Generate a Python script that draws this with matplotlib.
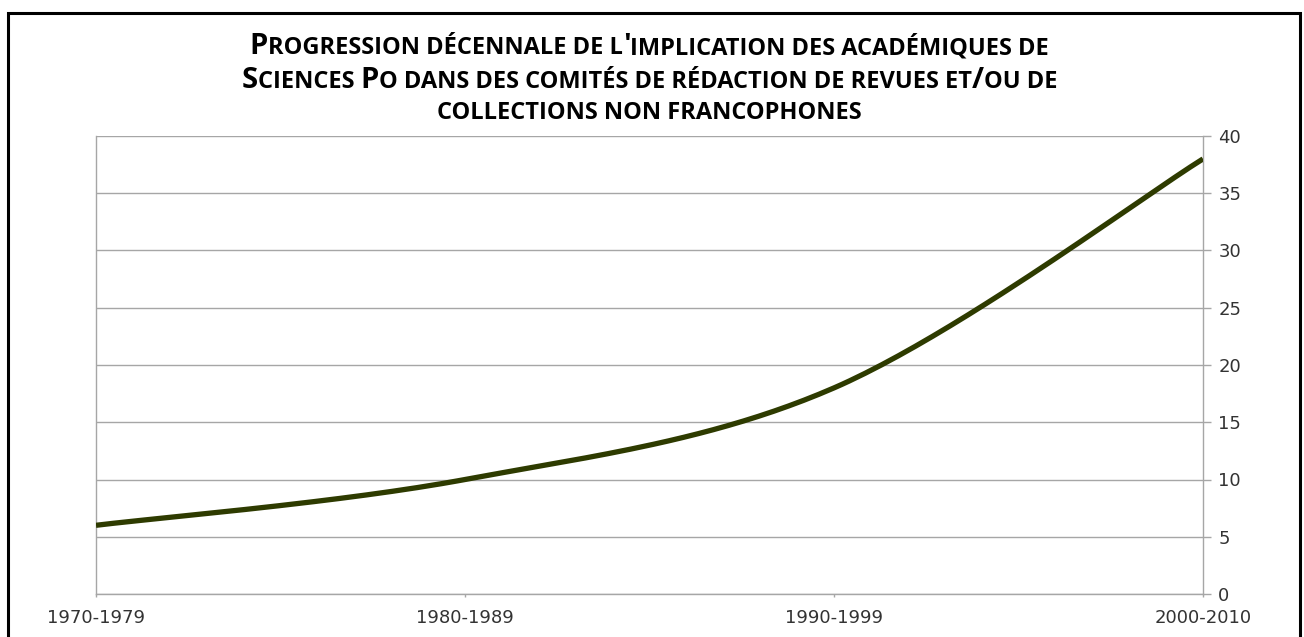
import numpy as np
import matplotlib
matplotlib.use('Agg')
import matplotlib.pyplot as plt
from matplotlib.offsetbox import TextArea, HPacker, AnchoredOffsetbox
from matplotlib.patches import Rectangle

# Data
periods = ['1970-1979', '1980-1989', '1990-1999', '2000-2010']
counts = [6, 10, 18, 38]
yticks = [0, 5, 10, 15, 20, 25, 30, 35, 40]

# Title, written with capitals where the small-caps title has a big letter
title_lines = [
    "Progression décennale de l'implication des académiques de",
    "Sciences Po dans des comités de rédaction de revues et/ou de",
    "collections non francophones",
]

GRID = '#a6a6a6'
LINE = '#2e3b00'


def smooth(xs, ys, n=50):
    # Excel-style smoothed line: cubic Bezier through each pair of points
    pts = np.column_stack([xs, ys]).astype(float)
    padded = np.vstack([pts[0], pts, pts[-1]])
    t = np.linspace(0, 1, n)[:, None]
    segs = []
    for i in range(len(pts) - 1):
        p0, p1, p2, p3 = padded[i:i + 4]
        c1 = p1 + (p2 - p0) / 6
        c2 = p2 - (p3 - p1) / 6
        segs.append((1 - t) ** 3 * p1 + 3 * (1 - t) ** 2 * t * c1
                    + 3 * (1 - t) * t ** 2 * c2 + t ** 3 * p2)
    return np.vstack(segs)


def smallcaps(line, big=21, small=17):
    # split into runs of big (capital / punctuation) and small (lowercase) letters
    runs = []
    for ch in line:
        kind = 'small' if (ch.isalpha() and ch.islower()) or ch == ' ' else 'big'
        if runs and runs[-1][0] == kind:
            runs[-1][1] += ch
        else:
            runs.append([kind, ch])
    boxes = []
    for kind, txt in runs:
        size = small if kind == 'small' else big
        boxes.append(TextArea(txt.upper(), textprops=dict(
            fontsize=size, fontweight='bold', family='Open Sans', color='black')))
    return HPacker(children=boxes, align='baseline', pad=0, sep=0)


fig = plt.figure(figsize=(13.04, 6.37), dpi=100)
ax = fig.add_axes([96 / 1304, 1 - 594 / 637, (1203 - 96) / 1304, (594 - 136) / 637])

xs = np.arange(len(periods))
curve = smooth(xs, counts)
ax.plot(curve[:, 0], curve[:, 1], color=LINE, lw=3.8, solid_capstyle='butt', zorder=3)

ax.set_xlim(0, len(periods) - 1)
ax.set_ylim(0, 40)
ax.set_xticks(xs)
ax.set_xticklabels(periods)
ax.set_yticks(yticks)
ax.yaxis.tick_right()
ax.grid(axis='y', color=GRID, lw=1)
ax.set_axisbelow(True)
ax.spines['top'].set_visible(False)
for side in ['left', 'right', 'bottom']:
    ax.spines[side].set_color(GRID)
    ax.spines[side].set_linewidth(1)
ax.tick_params(axis='y', direction='out', length=6, width=1, color=GRID,
               pad=5, labelsize=13, labelcolor='#333333')
ax.tick_params(axis='x', direction='out', length=2.5, width=1, color=GRID,
               pad=8, labelsize=13, labelcolor='#333333')

title_y = [0.927, 0.873, 0.822]
for line, y in zip(title_lines, title_y):
    box = AnchoredOffsetbox(loc='center', child=smallcaps(line), pad=0, borderpad=0,
                            frameon=False, bbox_to_anchor=(0.498, y),
                            bbox_transform=fig.transFigure)
    fig.add_artist(box)

# black frame round the chart (bottom edge is cut off in the original)
fig.add_artist(Rectangle((8 / 1304, -0.05), (1300 - 8) / 1304, 1.05 - 13 / 637,
                         transform=fig.transFigure, fill=False, lw=2.2,
                         edgecolor='black'))

fig.savefig('out.png', dpi=100)
